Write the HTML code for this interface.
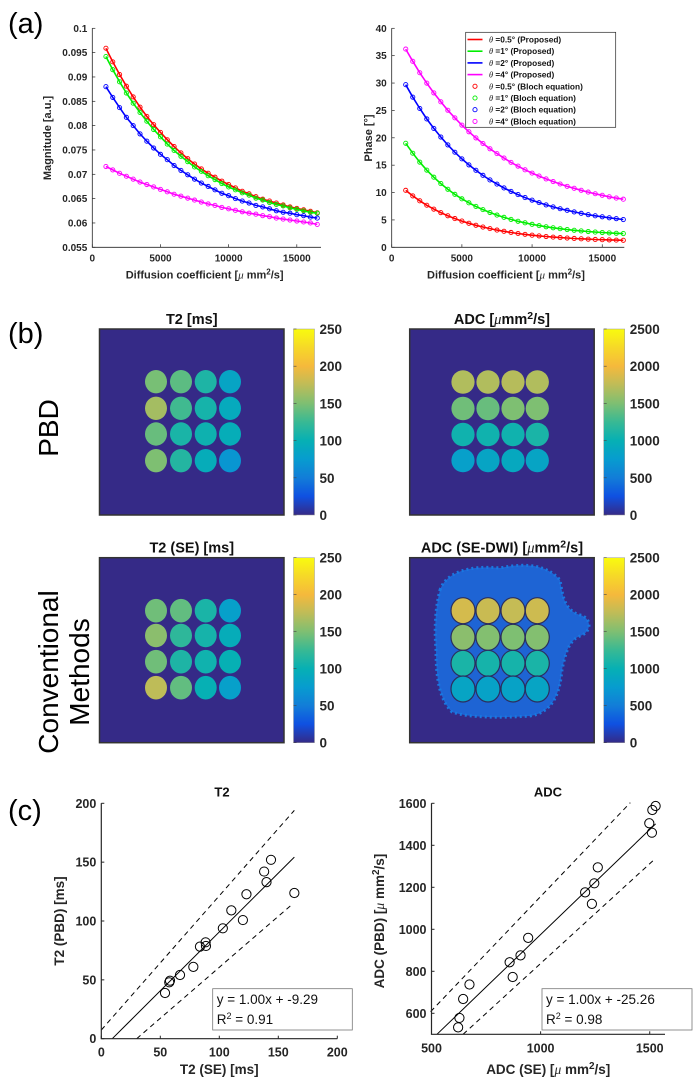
<!DOCTYPE html>
<html><head><meta charset="utf-8">
<style>
html,body{margin:0;padding:0;background:#fff;}
svg{display:block;font-family:"Liberation Sans",sans-serif;}
.tk{font-size:10px;font-weight:bold;fill:#262626;}
.tk2{font-size:12.5px;font-weight:bold;fill:#262626;}
.tk3{font-size:13.5px;font-weight:bold;fill:#262626;}
.lg{font-size:8.3px;font-weight:bold;fill:#111;}
</style></head>
<body>
<svg id="fig" width="698" height="1090" viewBox="0 0 698 1090" xmlns="http://www.w3.org/2000/svg">
<defs>
<linearGradient id="parula" x1="0" y1="1" x2="0" y2="0">
<stop offset="0" stop-color="rgb(53,42,135)"/><stop offset="0.1" stop-color="rgb(15,80,225)"/>
<stop offset="0.2" stop-color="rgb(18,125,216)"/><stop offset="0.3" stop-color="rgb(7,156,207)"/>
<stop offset="0.4" stop-color="rgb(6,176,180)"/><stop offset="0.5" stop-color="rgb(56,185,148)"/>
<stop offset="0.6" stop-color="rgb(126,191,114)"/><stop offset="0.7" stop-color="rgb(190,188,88)"/>
<stop offset="0.8" stop-color="rgb(245,185,60)"/><stop offset="0.9" stop-color="rgb(246,216,40)"/>
<stop offset="1" stop-color="rgb(249,251,14)"/>
</linearGradient>
</defs>
<text x="8" y="33" font-size="29">(a)</text>
<text x="8" y="343" font-size="29">(b)</text>
<text x="8" y="820" font-size="29">(c)</text>
<g id="ga"></g><g id="gb"></g><g id="gc"></g>
</svg>
<script>
// ---------- Panel (a) data ----------
var diffCoef = [1000,1500,2000,2500,3000,3500,4000,4500,5000,5500,6000,6500,7000,7500,8000,8500,9000,9500,10000,10500,11000,11500,12000,12500,13000,13500,14000,14500,15000,15500,16000,16500];
var seriesNames = ['θ =0.5°','θ =1°','θ =2°','θ =4°'];
var seriesColors = ['#ff0000','#00ee00','#0000ff','#ff00ff'];
var magRed = [0.0959,0.0931,0.0905,0.0881,0.0859,0.0838,0.0819,0.0802,0.0786,0.0771,0.0757,0.0744,0.0732,0.0721,0.0711,0.0702,0.0694,0.0686,0.0679,0.0672,0.0665,0.0660,0.0654,0.0649,0.0645,0.0641,0.0637,0.0633,0.0630,0.0627,0.0624,0.0621];
var magGreen = [0.0942,0.0915,0.0890,0.0867,0.0846,0.0827,0.0809,0.0792,0.0777,0.0762,0.0749,0.0737,0.0726,0.0715,0.0706,0.0697,0.0689,0.0681,0.0674,0.0668,0.0662,0.0657,0.0651,0.0647,0.0642,0.0638,0.0635,0.0631,0.0628,0.0625,0.0622,0.0620];
var magBlue = [0.0880,0.0858,0.0837,0.0817,0.0800,0.0783,0.0768,0.0754,0.0741,0.0730,0.0718,0.0708,0.0699,0.0690,0.0682,0.0675,0.0668,0.0661,0.0656,0.0650,0.0645,0.0641,0.0636,0.0633,0.0629,0.0625,0.0622,0.0620,0.0617,0.0615,0.0612,0.0610];
var magMagenta = [0.0716,0.0709,0.0702,0.0696,0.0690,0.0684,0.0679,0.0674,0.0669,0.0664,0.0659,0.0655,0.0651,0.0647,0.0643,0.0639,0.0636,0.0632,0.0629,0.0626,0.0623,0.0620,0.0618,0.0615,0.0613,0.0610,0.0608,0.0606,0.0604,0.0602,0.0600,0.0597];
var phRed = [10.4,9.39,8.49,7.68,6.97,6.33,5.76,5.24,4.79,4.38,4.02,3.70,3.41,3.14,2.92,2.71,2.52,2.36,2.21,2.08,1.97,1.86,1.77,1.69,1.61,1.55,1.49,1.43,1.39,1.35,1.31,1.28];
var phGreen = [19.0,17.18,15.55,14.09,12.80,11.64,10.60,9.67,8.85,8.12,7.46,6.88,6.35,5.88,5.47,5.09,4.75,4.47,4.19,3.96,3.75,3.56,3.39,3.24,3.11,2.99,2.88,2.78,2.70,2.63,2.56,2.51];
var phBlue = [29.7,27.42,25.35,23.44,21.71,20.14,18.70,17.36,16.15,15.05,14.06,13.14,12.30,11.54,10.84,10.21,9.63,9.08,8.61,8.16,7.74,7.38,7.04,6.75,6.46,6.20,5.96,5.75,5.57,5.39,5.23,5.07];
var phMagenta = [36.2,33.97,31.88,29.98,28.20,26.57,25.03,23.64,22.31,21.10,19.98,18.96,17.99,17.11,16.30,15.51,14.82,14.15,13.55,13.01,12.49,12.01,11.56,11.13,10.77,10.41,10.08,9.78,9.50,9.23,8.99,8.78];
var magTicks = [0.055,0.06,0.065,0.07,0.075,0.08,0.085,0.09,0.095,0.1];
var magTickLabels = ['0.055','0.06','0.065','0.07','0.075','0.08','0.085','0.09','0.095','0.1'];
var phTicks = [0,5,10,15,20,25,30,35,40];
var dTicks = [0,5000,10000,15000];
// ---------- Panel (b) data ----------
var t2PBD = [[148,138,112,85],[165,128,108,92],[142,110,104,96],[150,115,95,70]];
var adcPBD = [[1700,1700,1720,1700],[1450,1420,1500,1500],[1050,1050,1050,1100],[800,850,900,850]];
var t2SE = [[145,140,110,80],[155,120,108,95],[145,112,105,100],[175,140,100,80]];
var adcSE = [[1850,1800,1780,1820],[1550,1520,1500,1520],[1100,1080,1080,1100],[850,820,830,850]];
var t2CbTicks = [0,50,100,150,200,250];
var adcCbTicks = [0,500,1000,1500,2000,2500];
// ---------- Panel (c) data ----------
var t2SEvals = [54,57.6,58.2,66.7,78,83.6,88.4,88.7,103,110.2,120,123,138,140,143.8,163.6];
var t2PBDvals = [38.8,47.9,49.3,54.1,61,78.2,81.9,78.8,93.8,109,100.8,122.7,142,133,152,123.8];
var adcSEvals = [622,628,645,674,858,872,908,943,1204,1235,1246,1262,1498,1510,1512,1527];
var adcPBDvals = [533,578,668,737,843,773,876,959,1176,1121,1219,1295,1505,1460,1568,1587];
var t2FitX = [9.29,163.6], t2FitY = [0,154.3];
var t2UpX = [0,163.6], t2UpY = [7.4,194];
var t2LoX = [30,162.7], t2LoY = [0,115];
var adcFitX = [525,1527], adcFitY = [500,1502];
var adcUpX = [496,1411], adcUpY = [608,1603];
var adcLoX = [645,1527], adcLoY = [500,1338];
var t2AxTicks = [0,50,100,150,200];
var adcXTicks = [500,1000,1500];
var adcYTicks = [600,800,1000,1200,1400,1600];

var NS='http://www.w3.org/2000/svg';
function mk(parent,tag,attrs,txt){var e=document.createElementNS(NS,tag);for(var k in attrs)e.setAttribute(k,attrs[k]);if(txt!==undefined)e.textContent=txt;parent.appendChild(e);return e;}
function lin(d0,d1,r0,r1){return function(v){return r0+(v-d0)/(d1-d0)*(r1-r0);};}
function parula(t){var s=[[0,53,42,135],[0.1,15,80,225],[0.2,18,125,216],[0.3,7,156,207],[0.4,6,176,180],[0.5,56,185,148],[0.6,126,191,114],[0.7,190,188,88],[0.8,245,185,60],[0.9,246,216,40],[1,249,251,14]];
 t=Math.max(0,Math.min(1,t));for(var i=0;i<s.length-1;i++){if(t<=s[i+1][0]){var f=(t-s[i][0])/(s[i+1][0]-s[i][0]);return 'rgb('+[1,2,3].map(function(j){return Math.round(s[i][j]+f*(s[i+1][j]-s[i][j]));}).join(',')+')';}}return 'rgb(249,251,14)';}

var ga=document.getElementById('ga');
function linePlot(g,name,x0,x1,y0,y1,xmax,ymin,ymax,yt,ytl,series,ytitle,ytx,yty){
 var sx=lin(0,xmax,x0,x1), sy=lin(ymin,ymax,y0,y1);
 var pg=mk(g,'g',{});
 
 
 series.forEach(function(vals,si){
  var pts=diffCoef.map(function(d,i){return sx(d).toFixed(1)+','+sy(vals[i]).toFixed(1);}).join(' ');
  var pl=mk(pg,'polyline',{points:pts,fill:'none',stroke:seriesColors[si],'stroke-width':1.6});
  
  
  diffCoef.forEach(function(d,i){
   var c=mk(pg,'circle',{cx:sx(d),cy:sy(vals[i]),r:2.1,fill:'none',stroke:seriesColors[si],'stroke-width':0.9});
   
   
  });
 });
 mk(pg,'path',{d:'M'+x0+','+y1+'V'+y0+'H'+x1,fill:'none',stroke:'#262626','stroke-width':0.8});
 yt.forEach(function(v,i){var y=sy(v);mk(pg,'line',{x1:x0,x2:x0+3,y1:y,y2:y,stroke:'#262626','stroke-width':0.7});
  var t=mk(pg,'text',{x:x0-5,y:y+3.5,'text-anchor':'end','class':'tk'},ytl[i]);
  
  });
 dTicks.forEach(function(v){var x=sx(v);mk(pg,'line',{x1:x,x2:x,y1:y0,y2:y0-3,stroke:'#262626','stroke-width':0.7});
  var t=mk(pg,'text',{x:x,y:y0+14,'text-anchor':'middle','class':'tk'},String(v));
  
  });
 var yl=mk(pg,'text',{x:0,y:0,'text-anchor':'middle','font-size':'11','font-weight':'bold',fill:'#262626',transform:'translate('+ytx+','+yty+') rotate(-90)'},ytitle);
 
 
 var xl=mk(pg,'text',{x:(x0+x1)/2-2,y:y0+31,'text-anchor':'middle','font-size':'11','font-weight':'bold',fill:'#262626'});
 xl.innerHTML='Diffusion coefficient [<tspan font-family="Liberation Serif" font-style="italic" font-weight="normal">μ</tspan> mm<tspan dy="-4" font-size="8">2</tspan><tspan dy="4">/s]</tspan>';
 
 
}
linePlot(ga,'magnitude-plot',92.3,321,247.3,28.3,16775,0.055,0.1,magTicks,magTickLabels,[magRed,magGreen,magBlue,magMagenta],'Magnitude [a.u.]',51,138);
linePlot(ga,'phase-plot',391.7,624.3,247.3,28.3,16570,0,40,phTicks,phTicks.map(String),[phRed,phGreen,phBlue,phMagenta],'Phase [°]',372,138);
(function(){
 var lg=mk(ga,'g',{});
 
 
 mk(lg,'rect',{x:465.7,y:32.3,width:150,height:95,fill:'#fff',stroke:'#262626','stroke-width':0.7});
 var ys=[39.5,51.2,62.9,74.6,86.3,98,109.7,121.4];
 for(var i=0;i<8;i++){
  var si=i%4, y=ys[i];
  if(i<4) mk(lg,'line',{x1:467.5,x2:482.5,y1:y,y2:y,stroke:seriesColors[si],'stroke-width':1.6});
  else mk(lg,'circle',{cx:475,cy:y,r:2.1,fill:'none',stroke:seriesColors[si],'stroke-width':0.9});
  var t=mk(lg,'text',{x:489,y:y+3,'class':'lg'});
  t.innerHTML='<tspan font-family="Liberation Serif" font-style="italic" font-weight="normal">θ</tspan> '+seriesNames[si].slice(2)+(i<4?' (Proposed)':' (Bloch equation)');
  
  
 }
})();

// ---------- Panel (b) ----------
var gb=document.getElementById('gb');
function mapImg(name,bx,by,bw,bh,vals,vmax,cx,cyRows,rx,ry,outline,cbTicks,title,halo){
 var g=mk(gb,'g',{});
 
 
 mk(g,'rect',{x:bx,y:by,width:bw,height:bh,fill:'rgb(53,42,135)',stroke:'#333','stroke-width':1.5});
 if(halo){var h=mk(g,'path',{d:halo,fill:'rgb(30,100,212)',stroke:'rgb(25,120,225)','stroke-width':3,'stroke-dasharray':'2 3'});
  
  }
 for(var r=0;r<4;r++)for(var c=0;c<4;c++){
  var e=mk(g,'ellipse',{cx:cx[c],cy:cyRows[r],rx:rx,ry:ry,fill:parula(vals[r][c]/vmax),stroke:outline||'none','stroke-width':outline?1.2:0});
  
  
 }
 var cbx=bx+bw+9.5;
 var cb=mk(g,'rect',{x:cbx,y:by,width:21,height:bh,fill:'url(#parula)',stroke:'#999','stroke-width':0.5});
 
 
 var sy=lin(0,cbTicks[cbTicks.length-1],by+bh,by);
 cbTicks.forEach(function(v){var y=sy(v);
  mk(g,'line',{x1:cbx,x2:cbx+3,y1:y,y2:y,stroke:'#444','stroke-width':0.6});
  var t=mk(g,'text',{x:cbx+26,y:y+5,'class':'tk3'},String(v));
  
  });
 var tt=mk(g,'text',{x:bx+bw/2,y:by-5,'text-anchor':'middle','font-size':'14.5','font-weight':'bold',fill:'#111'});
 tt.innerHTML=title;
 
 
}
var mu='<tspan font-family="Liberation Serif" font-style="italic" font-weight="normal">μ</tspan>';
mapImg('t2-pbd-map',99.5,329,184.5,186,t2PBD,250,[156,181,205.7,230],[381.7,408.3,434,460.7],11,11.7,null,t2CbTicks,'T2 [ms]');
mapImg('adc-pbd-map',409.7,329,184.5,186,adcPBD,2500,[463,488,513,537.3],[382,408.5,434.5,460.5],11.6,11.8,null,adcCbTicks,'ADC ['+mu+'mm<tspan dy="-5" font-size="10.5">2</tspan><tspan dy="5">/s]</tspan>');
mapImg('t2-se-map',99.5,557.7,184.5,185,t2SE,250,[156,181,205.7,230],[610.7,635.5,661.7,687.7],11,11.8,null,t2CbTicks,'T2 (SE) [ms]');
mapImg('adc-se-map',409.7,557.7,184.5,185,adcSE,2500,[463,488,513,537.3],[610.7,637.3,663.3,689],12,13,'#2b2f5e',adcCbTicks,'ADC (SE-DWI) ['+mu+'mm<tspan dy="-5" font-size="10.5">2</tspan><tspan dy="5">/s]</tspan>',
 'M440,590 C446,572 470,565 500,568 C528,562 548,566 560,580 C563,598 565,610 580,615 C592,618 592,632 580,636 C570,640 566,650 562,670 C560,690 555,712 530,716 C500,718 470,718 452,712 C440,700 436,680 436,650 C434,625 436,605 440,590 Z');
var r1=mk(gb,'text',{x:0,y:0,'font-size':'28',fill:'#000','text-anchor':'middle',transform:'translate(58,428) rotate(-90)'},'PBD');


var r2=mk(gb,'text',{x:0,y:0,'font-size':'28',fill:'#000','text-anchor':'middle',transform:'translate(58,672) rotate(-90)'},'Conventional');


var r3=mk(gb,'text',{x:0,y:0,'font-size':'28',fill:'#000','text-anchor':'middle',transform:'translate(89,672) rotate(-90)'},'Methods');



// ---------- Panel (c) ----------
var gc=document.getElementById('gc');
function scatter(name,x0,x1,y0,y1,xmin,xmax,ymin,ymax,xt,yt,xs,ys,fit,up,lo,title,titleX,xtitle,ytitle,ytx,eqs,lgx){
 var sx=lin(xmin,xmax,x0,x1), sy=lin(ymin,ymax,y0,y1);
 var g=mk(gc,'g',{});
 
 
 [[up,'5 4'],[lo,'5 4'],[fit,null]].forEach(function(l){
  var xa=l[0][0], ya=l[0][1];
  var a={x1:sx(xa[0]),y1:sy(ya[0]),x2:sx(xa[1]),y2:sy(ya[1]),stroke:'#000','stroke-width':1};
  if(l[1])a['stroke-dasharray']=l[1];
  var ln=mk(g,'line',a);
  
  
 });
 xs.forEach(function(v,i){var c=mk(g,'circle',{cx:sx(v),cy:sy(ys[i]),r:4.6,fill:'none',stroke:'#000','stroke-width':1});
  
  });
 mk(g,'path',{d:'M'+x0+','+y1+'V'+y0+'H'+x1,fill:'none',stroke:'#262626','stroke-width':1.2});
 xt.forEach(function(v){var x=sx(v);mk(g,'line',{x1:x,x2:x,y1:y0,y2:y0-3,stroke:'#262626'});
  var t=mk(g,'text',{x:x,y:y0+18,'text-anchor':'middle','class':'tk2'},String(v));
  
  });
 yt.forEach(function(v){var y=sy(v);mk(g,'line',{x1:x0,x2:x0+3,y1:y,y2:y,stroke:'#262626'});
  var t=mk(g,'text',{x:x0-5,y:y+4.5,'text-anchor':'end','class':'tk2'},String(v));
  
  });
 var tt=mk(g,'text',{x:titleX,y:y1-7,'text-anchor':'middle','font-size':'13','font-weight':'bold',fill:'#111'},title);
 
 
 var xl=mk(g,'text',{x:(x0+x1)/2,y:1074,'text-anchor':'middle','font-size':'13.5','font-weight':'bold',fill:'#262626'});
 xl.innerHTML=xtitle;
 
 
 var yl=mk(g,'text',{x:0,y:0,'text-anchor':'middle','font-size':'13.5','font-weight':'bold',fill:'#262626',transform:'translate('+ytx+',921) rotate(-90)'});
 yl.innerHTML=ytitle;
 
 
 var lb=mk(g,'g',{});
 
 
 mk(lb,'rect',{x:lgx,y:988.7,width:lgx>500?150:139.6,height:41.3,fill:'#fff',stroke:'#777','stroke-width':0.8});
 mk(lb,'text',{x:lgx+4,y:1004,'font-size':'13.5',fill:'#111'},eqs[0]);
 var r=mk(lb,'text',{x:lgx+4,y:1024,'font-size':'13.5',fill:'#111'});
 r.innerHTML='R<tspan dy="-5" font-size="9">2</tspan><tspan dy="5"> = '+eqs[1]+'</tspan>';
}
scatter('t2-scatter',101.3,337.3,1038.7,803.3,0,200,0,200,t2AxTicks,t2AxTicks,t2SEvals,t2PBDvals,[t2FitX,t2FitY],[t2UpX,t2UpY],[t2LoX,t2LoY],'T2',222,'T2 (SE) [ms]','T2 (PBD) [ms]',64,['y = 1.00x + -9.29','0.91'],212.7);
scatter('adc-scatter',431.5,665,1034.3,803.3,500,1570,500,1600,adcXTicks,adcYTicks,adcSEvals,adcPBDvals,[adcFitX,adcFitY],[adcUpX,adcUpY],[adcLoX,adcLoY],'ADC',548,'ADC (SE) ['+mu+' mm<tspan dy="-5" font-size="10">2</tspan><tspan dy="5">/s]</tspan>','ADC (PBD) ['+mu+' mm<tspan dy="-5" font-size="10">2</tspan><tspan dy="5">/s]</tspan>',384,['y = 1.00x + -25.26','0.98'],542);
</script>
</body></html>
